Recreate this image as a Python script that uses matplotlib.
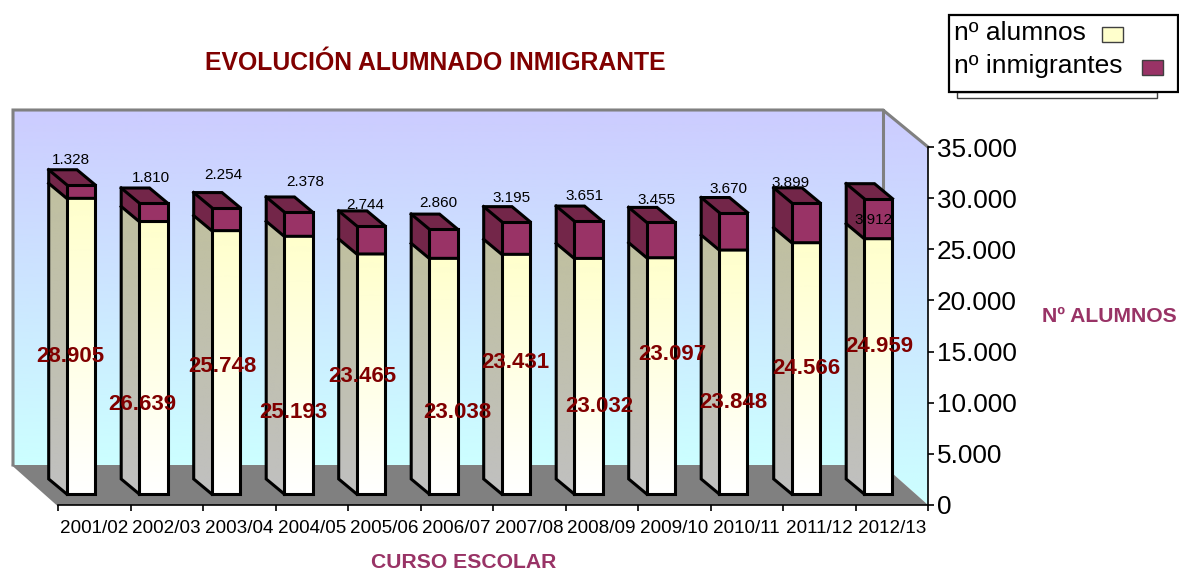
#!/usr/bin/python
# coding=utf8

import numpy as np
import matplotlib
matplotlib.use('Agg')
import matplotlib.pyplot as plt
from matplotlib.patches import Polygon, Rectangle

plt.rcParams['font.family'] = ['Liberation Sans', 'DejaVu Sans']

cursos = ['2001/02', '2002/03', '2003/04', '2004/05', '2005/06', '2006/07',
          '2007/08', '2008/09', '2009/10', '2010/11', '2011/12', '2012/13']
alumnos = [28905, 26639, 25748, 25193, 23465, 23038, 23431, 23032, 23097, 23848, 24566, 24959]
inmigrantes = [1328, 1810, 2254, 2378, 2744, 2860, 3195, 3651, 3455, 3670, 3899, 3912]
alumnos_txt = ['28.905', '26.639', '25.748', '25.193', '23.465', '23.038',
               '23.431', '23.032', '23.097', '23.848', '24.566', '24.959']
inmigrantes_txt = ['1.328', '1.810', '2.254', '2.378', '2.744', '2.860',
                   '3.195', '3.651', '3.455', '3.670', '3.899', '3.912']
y_ticks = [0, 5000, 10000, 15000, 20000, 25000, 30000, 35000]
y_labels = ['0', '5.000', '10.000', '15.000', '20.000', '25.000', '30.000', '35.000']

# where the labels sit in the picture (pixels)
alumnos_pos = [(70, 357), (142, 404), (222, 367), (293, 413), (362, 376), (457, 413),
               (515, 363), (599, 406), (672, 354), (733, 403), (806, 369), (879, 347)]
inmigrantes_pos = [(71, 160), (151, 178), (223, 175), (305, 182), (365, 205), (438, 203),
                   (512, 198), (585, 196), (657, 200), (728, 189), (791, 183), (874, 220)]

W, H = 1179, 571
fig = plt.figure(figsize=(W / 100, H / 100), dpi=100)

# background layer in pixel coordinates
bg = fig.add_axes([0, 0, 1, 1], zorder=0)
bg.set_xlim(0, W)
bg.set_ylim(H, 0)
bg.axis('off')


def gradient(axis, poly, c_top, c_bottom, ext):
    # vertical colour gradient clipped to a polygon
    t = np.linspace(0, 1, 128)[:, None, None]
    img = np.array(c_top)[None, None, :] * (1 - t) + np.array(c_bottom)[None, None, :] * t
    im = axis.imshow(img / 255.0, extent=ext, aspect='auto', origin='upper', zorder=2,
                     interpolation='bilinear')
    patch = Polygon(poly, closed=True, transform=axis.transData, fc='none', ec='none')
    axis.add_patch(patch)
    im.set_clip_path(patch)
    im.set_clip_box(fig.bbox)  # the first bar sticks out left of the axes


wall_top = (204, 204, 255)
wall_bottom = (204, 255, 255)
gradient(bg, [(13, 110), (883, 110), (883, 465), (13, 465)], wall_top, wall_bottom, (13, 883, 465, 110))
gradient(bg, [(883, 110), (928, 147), (928, 505), (883, 465)], wall_top, wall_bottom, (883, 928, 505, 110))
bg.set_xlim(0, W)
bg.set_ylim(H, 0)
bg.add_patch(Polygon([(13, 465), (883, 465), (928, 505), (58, 505)], fc='#808080', ec='none', zorder=3))
bg.plot([13, 13, 883, 928], [465, 110, 110, 147], color='#808080', lw=2.2, zorder=4, solid_joinstyle='miter')
bg.plot([883, 883], [110, 465], color='#808080', lw=2.2, zorder=2.5)
bg.plot([13, 58], [465, 505], color='#808080', lw=1.5, zorder=4)

# chart layer, front plane of the 3d box
ax = fig.add_axes([58 / W, (H - 505) / H, 870 / W, 358 / H], zorder=1)
ax.patch.set_alpha(0)
ax.set_xlim(0, 12)
ax.set_ylim(0, 35000)

px_x = 12 / 870.0
px_y = 35000 / 358.0
left = 8.7 * px_x
ancho = 28.3 * px_x
dx = 18 * px_x
dy = 15 * px_y
base = 11 * px_y

for i in range(len(cursos)):
    x0 = i + left
    x1 = x0 + ancho
    y0 = base
    y1 = base + alumnos[i]
    y2 = y1 + inmigrantes[i]

    # yellow part, side then front
    side = [(x0 - dx, y0 + dy), (x0, y0), (x0, y1), (x0 - dx, y1 + dy)]
    gradient(ax, side, (192, 192, 160), (192, 192, 192), (x0 - dx, x0, y0, y1 + dy))
    front = [(x0, y0), (x1, y0), (x1, y1), (x0, y1)]
    gradient(ax, front, (255, 255, 204), (255, 255, 255), (x0, x1, y0, y1))

    # purple part
    ax.add_patch(Polygon([(x0 - dx, y1 + dy), (x0, y1), (x0, y2), (x0 - dx, y2 + dy)], fc='#732649', ec='none', zorder=3, clip_on=False))
    ax.add_patch(Polygon([(x0, y1), (x1, y1), (x1, y2), (x0, y2)], fc='#993366', ec='none', zorder=3))
    ax.add_patch(Polygon([(x0, y2), (x1, y2), (x1 - dx, y2 + dy), (x0 - dx, y2 + dy)], fc='#732649', ec='none', zorder=3, clip_on=False))

    # outlines
    outline = dict(color='black', lw=2.2, zorder=4, solid_joinstyle='miter', clip_on=False)
    ax.plot([x0, x1, x1, x0, x0], [y0, y0, y2, y2, y0], **outline)
    ax.plot([x0, x0 - dx, x0 - dx, x1 - dx, x1], [y0, y0 + dy, y2 + dy, y2 + dy, y2], **outline)
    ax.plot([x0, x0 - dx], [y2, y2 + dy], **outline)
    ax.plot([x0 - dx, x0, x1], [y1 + dy, y1, y1], **outline)

ax.set_xlim(0, 12)
ax.set_ylim(0, 35000)

ax.spines['top'].set_visible(False)
ax.spines['left'].set_visible(False)
ax.spines['right'].set_linewidth(1.2)
ax.spines['bottom'].set_linewidth(1.2)
ax.yaxis.tick_right()
ax.set_yticks(y_ticks)
ax.set_yticklabels(y_labels, fontsize=18.8)
ax.tick_params(axis='y', length=4.5, width=1.2, pad=2)
ax.set_xticks(range(13))
ax.set_xticklabels([])
ax.set_xticks(np.arange(12) + 0.5, minor=True)
ax.set_xticklabels(cursos, minor=True, fontsize=13.6)
ax.tick_params(axis='x', which='major', length=4.5, width=1.2)
ax.tick_params(axis='x', which='minor', length=0, pad=10.5)

# value labels
for i in range(len(cursos)):
    ax.text(alumnos_pos[i][0], alumnos_pos[i][1], alumnos_txt[i], transform=bg.transData,
            ha='center', va='center', fontsize=16, fontweight='bold', color='#800000', zorder=6, clip_on=False)
    ax.text(inmigrantes_pos[i][0], inmigrantes_pos[i][1], inmigrantes_txt[i], transform=bg.transData,
            ha='center', va='center', fontsize=11, color='black', zorder=6, clip_on=False)

# titles
bg.text(435, 63, 'EVOLUCIÓN ALUMNADO INMIGRANTE', ha='center', va='center',
        fontsize=17.8, fontweight='bold', color='#800000')
bg.text(464, 562.5, 'CURSO ESCOLAR', ha='center', va='center', fontsize=15.2, fontweight='bold', color='#993366')
bg.text(1109, 317, 'Nº ALUMNOS', ha='center', va='center', fontsize=15.2, fontweight='bold', color='#993366')

# hand drawn legend like the original
bg.add_patch(Rectangle((957, 92), 200, 6, fc='white', ec='#404040', lw=1, zorder=3))
bg.add_patch(Rectangle((948.5, 15), 229, 77, fc='white', ec='black', lw=1.6, zorder=4))
bg.text(954, 33, 'nº alumnos', ha='left', va='center', fontsize=19, zorder=5)
bg.text(954, 66, 'nº inmigrantes', ha='left', va='center', fontsize=19, zorder=5)
bg.add_patch(Rectangle((1102, 27), 21, 15, fc='#FFFFCC', ec='#404040', lw=1, zorder=5))
bg.add_patch(Rectangle((1142, 60), 21, 15, fc='#993366', ec='#404040', lw=1, zorder=5))

fig.savefig('out.png', dpi=100)
